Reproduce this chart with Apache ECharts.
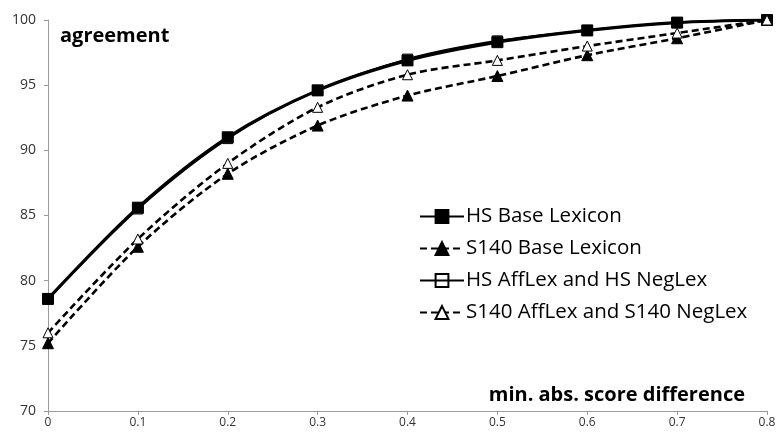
<!DOCTYPE html>
<html>
<head>
<meta charset="utf-8">
<script src="https://cdn.jsdelivr.net/npm/echarts@6/dist/echarts.min.js"></script>
<style>
html,body{margin:0;padding:0;background:#fff;}
#chart{width:779px;height:434px;}
</style>
</head>
<body>
<div id="chart"></div>
<script>
const xValues = [0, 0.1, 0.2, 0.3, 0.4, 0.5, 0.6, 0.7, 0.8];
const xTickLabels = ['0', '0.1', '0.2', '0.3', '0.4', '0.5', '0.6', '0.7', '0.8'];
const yTickLabels = ['70', '75', '80', '85', '90', '95', '100'];
const seriesNames = ['HS Base Lexicon', 'S140 Base Lexicon', 'HS AffLex and HS NegLex', 'S140 AffLex and S140 NegLex'];
const hsBase = [78.6, 85.6, 91.0, 94.6, 96.9, 98.3, 99.2, 99.8, 100];
const s140Base = [75.2, 82.6, 88.2, 91.9, 94.2, 95.7, 97.3, 98.6, 100];
const hsAff = [78.6, 85.5, 90.9, 94.6, 97.0, 98.4, 99.2, 99.8, 100];
const s140Aff = [76.0, 83.2, 89.0, 93.3, 95.8, 96.9, 98.0, 99.0, 100];

const FONT = '"Open Sans", Lato, sans-serif';
const pairs = arr => xValues.map((x, i) => [x, arr[i]]);

const chart = echarts.init(document.getElementById('chart'), null, {renderer: 'canvas'});
const dash = [7, 4];
chart.setOption({
  animation: false,
  backgroundColor: '#fff',
  textStyle: {fontFamily: FONT},
  grid: {left: 48, right: 12, top: 20, bottom: 23, containLabel: false},
  title: [
    {text: 'agreement', left: 55, top: 21, textStyle: {fontFamily: FONT, fontSize: 20, fontWeight: 'bold', color: '#000'}},
    {text: 'min. abs. score difference', right: 29, top: 380, textStyle: {fontFamily: FONT, fontSize: 20, fontWeight: 'bold', color: '#000'}}
  ],
  legend: {
    orient: 'vertical', left: 414, top: 201, itemGap: 11, itemWidth: 44, itemHeight: 16,
    textStyle: {fontFamily: FONT, fontSize: 20.5, lineHeight: 18, color: '#000', padding: [0, 0, 0, -3]},
    data: seriesNames
  },
  xAxis: {
    type: 'value', min: 0, max: 0.8, interval: 0.1,
    axisLine: {lineStyle: {color: '#9a9a9a', width: 1}},
    axisTick: {show: true, length: 4, lineStyle: {color: '#9a9a9a'}},
    splitLine: {show: false},
    axisLabel: {fontFamily: FONT, fontSize: 12, color: '#333', margin: 6,
      formatter: v => xTickLabels[Math.round(v * 10)]}
  },
  yAxis: {
    type: 'value', min: 70, max: 100, interval: 5,
    axisLine: {show: true, lineStyle: {color: '#9a9a9a', width: 1}},
    axisTick: {show: true, length: 4, lineStyle: {color: '#9a9a9a'}},
    splitLine: {show: false},
    axisLabel: {fontFamily: FONT, fontSize: 14, color: '#333', margin: 12,
      formatter: v => yTickLabels[Math.round((v - 70) / 5)]}
  },
  series: [
    {name: seriesNames[0], type: 'line', smooth: 0.3, data: pairs(hsBase),
      symbol: 'rect', symbolSize: 11, lineStyle: {color: '#000', width: 3.2},
      itemStyle: {color: '#000', borderColor: '#000', borderWidth: 1}, z: 2},
    {name: seriesNames[1], type: 'line', smooth: 0.3, data: pairs(s140Base),
      symbol: 'triangle', symbolSize: 11, lineStyle: {color: '#000', width: 2.6, type: dash},
      itemStyle: {color: '#000', borderColor: '#000', borderWidth: 1}, z: 3},
    {name: seriesNames[2], type: 'line', smooth: 0.3, data: pairs(hsAff),
      symbol: 'rect', symbolSize: 10, lineStyle: {color: '#000', width: 2},
      itemStyle: {color: 'rgba(255,255,255,0)', borderColor: '#000', borderWidth: 1}, z: 4},
    {name: seriesNames[3], type: 'line', smooth: 0.3, data: pairs(s140Aff),
      symbol: 'triangle', symbolSize: 10, lineStyle: {color: '#000', width: 2.6, type: dash},
      itemStyle: {color: '#fff', borderColor: '#000', borderWidth: 1}, z: 5}
  ]
});
</script>
</body>
</html>
